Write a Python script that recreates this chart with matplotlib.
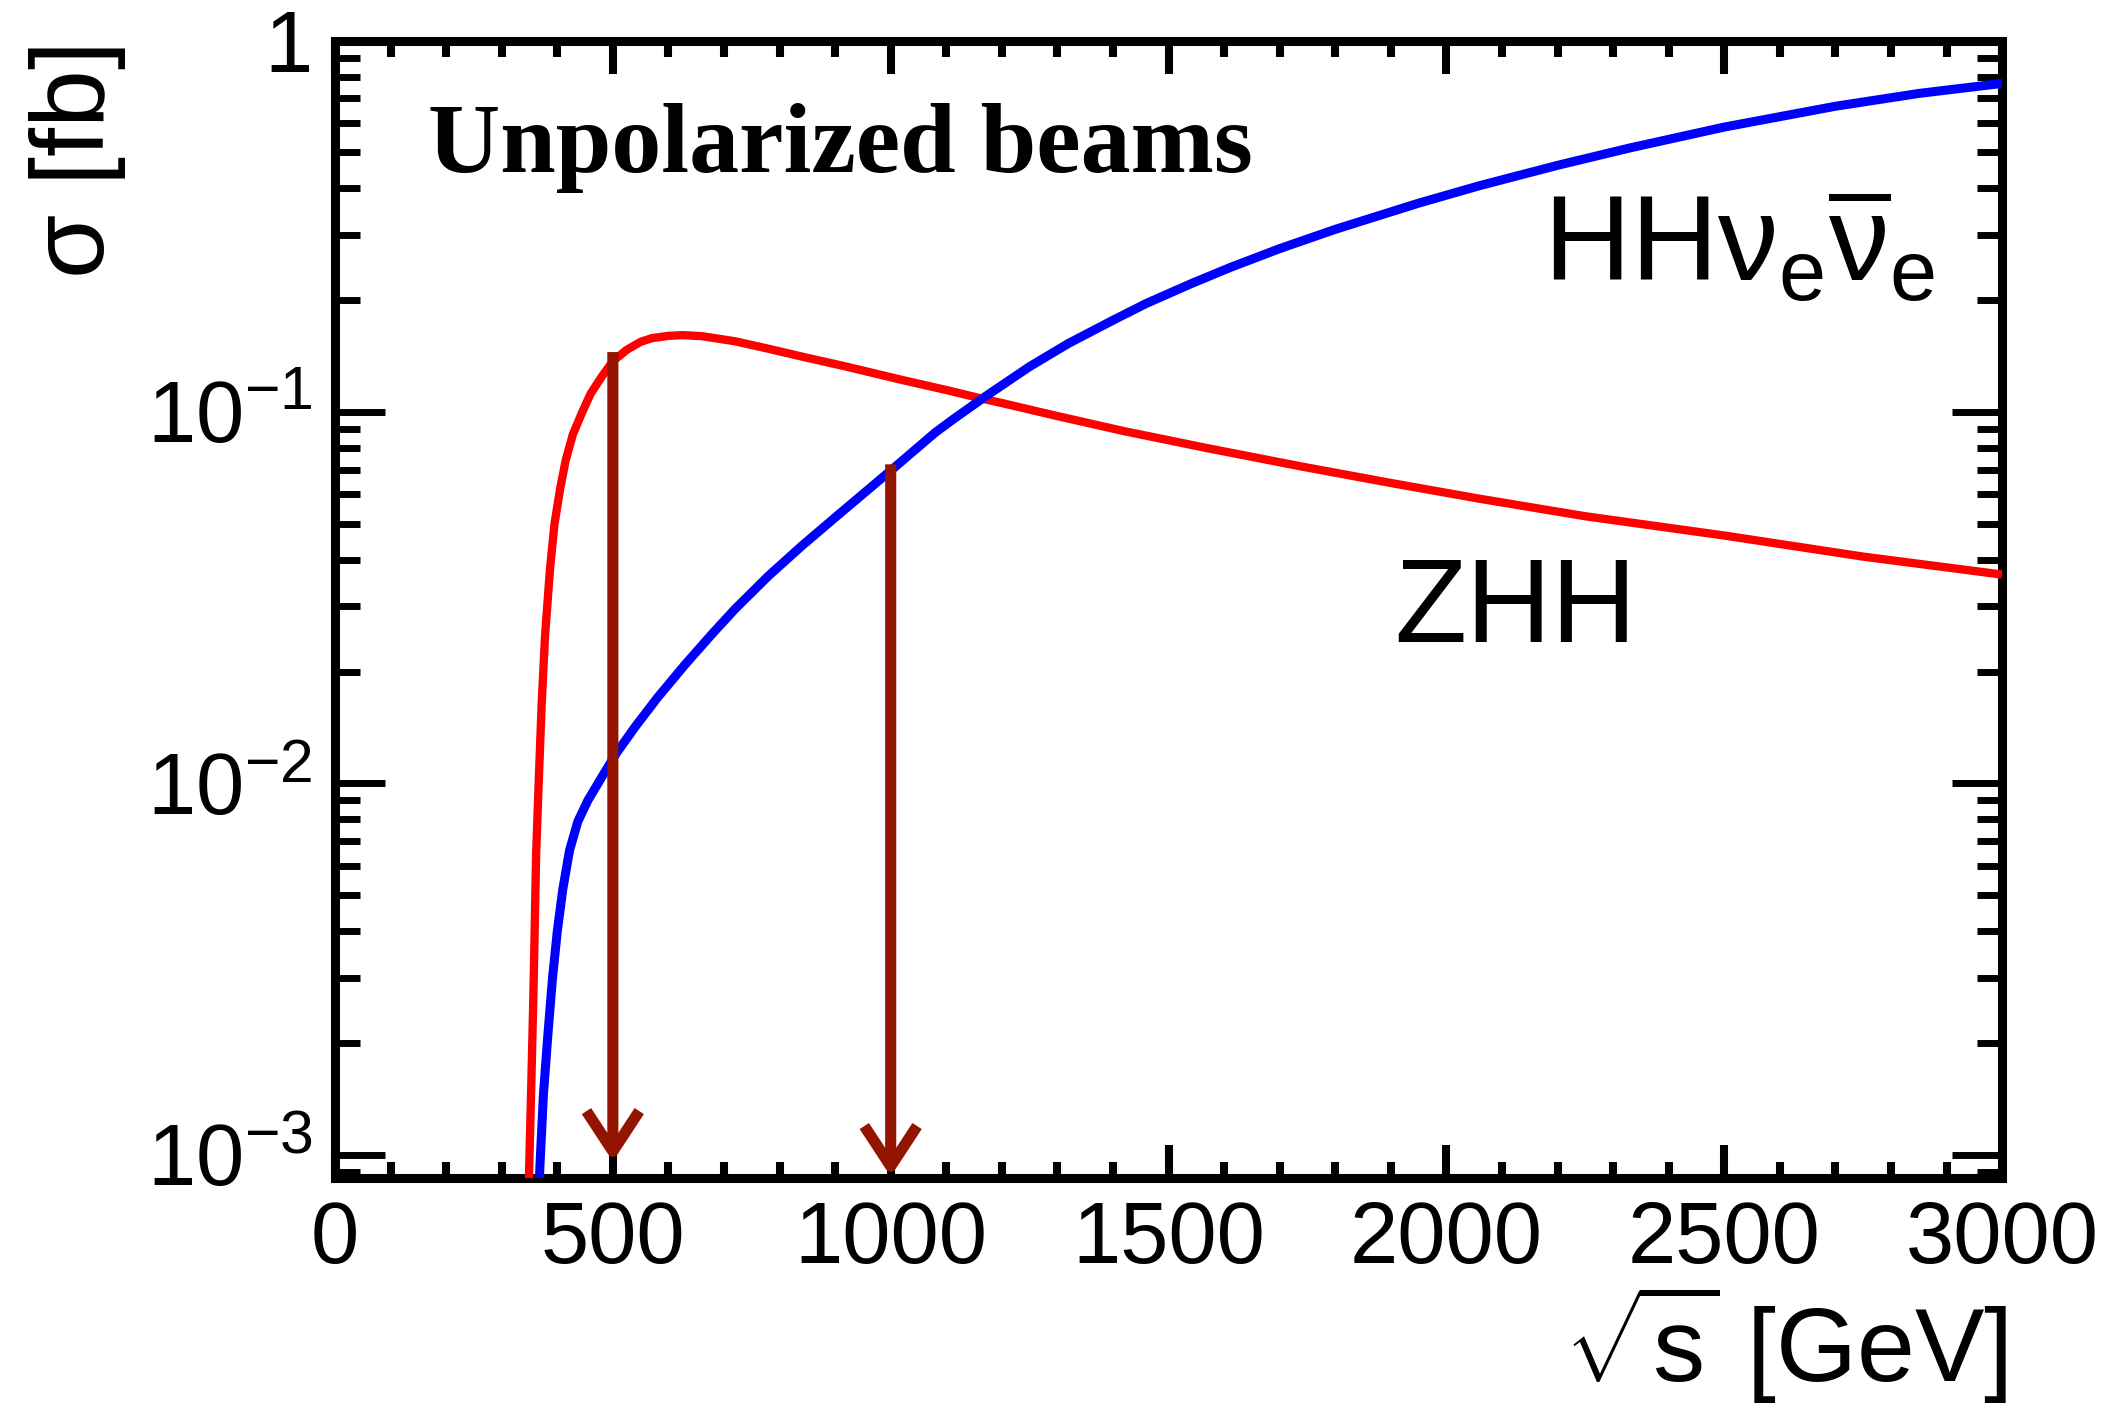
"""
Cross sections for double Higgs production at an e+e- collider
(ZHH and HH nu_e nu_e-bar) versus centre-of-mass energy, unpolarized beams.

Output:
    out.png
"""

import matplotlib
matplotlib.use("Agg")
import matplotlib.pyplot as plt
import matplotlib.ticker as mticker


# ---------------------------------------------------------------------
# Plot style
# ---------------------------------------------------------------------

plt.rcParams.update({
    "font.family": "Liberation Sans",
    "mathtext.fontset": "custom",
    "mathtext.rm": "Liberation Sans",
    "mathtext.it": "Liberation Sans",
    "mathtext.bf": "Liberation Sans:bold",
})


# ---------------------------------------------------------------------
# Data
# ---------------------------------------------------------------------

# ZHH, sqrt(s) in GeV, sigma in fb
zhh_sqrts = [348, 349, 353, 357, 362, 367, 372, 378, 387, 395, 405, 415, 428,
             445, 460, 480, 500, 525, 550, 570, 600, 625, 660, 720, 780, 840,
             920, 1020, 1100, 1160, 1200, 1300, 1420, 1570, 1740, 1900, 2060,
             2250, 2500, 2750, 3000]
zhh_sigma = [8.0e-4, 8.7e-4, 1.5e-3, 2.7e-3, 6.5e-3, 1.05e-2, 1.65e-2, 2.5e-2,
             3.8e-2, 5.0e-2, 6.2e-2, 7.4e-2, 8.7e-2, 0.100, 0.112, 0.1245,
             0.137, 0.147, 0.1545, 0.158, 0.1603, 0.161, 0.1600, 0.155, 0.148,
             0.141, 0.1325, 0.122, 0.1146, 0.109, 0.1057, 0.0975, 0.0888,
             0.0799, 0.0713, 0.0644, 0.0584, 0.0524, 0.0465, 0.0408, 0.0365]

# HH nu_e nu_e-bar
hhvv_sqrts = [367, 369, 375, 383, 391, 400, 410, 422, 437, 455, 480, 507, 540,
              580, 630, 680, 720, 780, 840, 900, 960, 1010, 1080, 1110, 1170,
              1250, 1320, 1400, 1460, 1540, 1610, 1700, 1800, 1950, 2060, 2200,
              2330, 2500, 2700, 2850, 3000]
hhvv_sigma = [8.0e-4, 9.5e-4, 1.45e-3, 2.1e-3, 2.95e-3, 4.0e-3, 5.2e-3, 6.6e-3,
              7.9e-3, 9.0e-3, 1.04e-2, 1.21e-2, 1.42e-2, 1.70e-2, 2.09e-2,
              2.54e-2, 2.95e-2, 3.62e-2, 4.36e-2, 5.20e-2, 6.19e-2, 7.16e-2,
              8.8e-2, 9.5e-2, 0.110, 0.1325, 0.153, 0.1766, 0.196, 0.2213,
              0.2446, 0.2753, 0.3102, 0.3649, 0.4068, 0.4613, 0.5138, 0.5848,
              0.6653, 0.7203, 0.7665]

# Benchmark energies marked with arrows
arrow_sqrts = [500, 1000]
arrow_top = [0.145, 0.0723]
arrow_tip = [9.6e-4, 8.75e-4]

x_min, x_max = 0, 3000
y_min, y_max = 8.67e-4, 1.0

y_major = [1e-3, 1e-2, 1e-1, 1.0]
y_major_labels = [r"$10^{-3}$", r"$10^{-2}$", r"$10^{-1}$", "1"]


# ---------------------------------------------------------------------
# Plotting
# ---------------------------------------------------------------------

def make_plot(output_path="out.png"):
    fig = plt.figure(figsize=(21.11, 14.07), dpi=100)
    ax = fig.add_axes([0.1587, 0.1628, 0.9484 - 0.1587, 0.9712 - 0.1628])

    ax.plot(zhh_sqrts, zhh_sigma, color="#ff0000", lw=6.0,
            solid_capstyle="butt", solid_joinstyle="round", zorder=3)
    ax.plot(hhvv_sqrts, hhvv_sigma, color="#0000ff", lw=6.5,
            solid_capstyle="butt", solid_joinstyle="round", zorder=3)

    for xs, top, tip in zip(arrow_sqrts, arrow_top, arrow_tip):
        ax.annotate(
            "",
            xy=(xs, tip),
            xytext=(xs, top),
            arrowprops=dict(
                arrowstyle="->,head_length=2.9,head_width=1.9",
                mutation_scale=10,
                color="#931400",
                lw=8,
                shrinkA=0,
                shrinkB=0,
                joinstyle="round",
                capstyle="butt",
            ),
            zorder=5,
        )

    ax.set_xlim(x_min, x_max)
    ax.set_yscale("log")
    ax.set_ylim(y_min, y_max)

    ax.xaxis.set_major_locator(mticker.MultipleLocator(500))
    ax.xaxis.set_minor_locator(mticker.MultipleLocator(100))
    ax.yaxis.set_major_locator(mticker.FixedLocator(y_major))
    ax.yaxis.set_major_formatter(mticker.FixedFormatter(y_major_labels))
    ax.yaxis.set_minor_locator(
        mticker.LogLocator(base=10, subs=range(2, 10), numticks=20))
    ax.yaxis.set_minor_formatter(mticker.NullFormatter())

    for spine in ax.spines.values():
        spine.set_linewidth(6.5)

    ax.tick_params(axis="both", which="both", direction="in",
                   top=True, right=True, labelsize=62.5, color="black")
    ax.tick_params(axis="x", which="major", length=24, width=5.8, pad=16)
    ax.tick_params(axis="x", which="minor", length=11.5, width=5.8)
    ax.tick_params(axis="y", which="major", length=36, width=5, pad=16)
    ax.tick_params(axis="y", which="minor", length=18, width=5)

    # Annotations
    ax.text(0.0558, 0.8844, "Unpolarized beams", transform=ax.transAxes,
            fontsize=72, fontweight="bold", family="Liberation Serif",
            ha="left", va="baseline")
    ax.text(0.7247, 0.7877, r"HH$\nu_{e}\overline{\nu}_{e}$",
            transform=ax.transAxes, fontsize=87, ha="left", va="baseline")
    ax.text(0.6353, 0.4712, "ZHH", transform=ax.transAxes, fontsize=85,
            ha="left", va="baseline")

    # Axis titles (ROOT style: flush with the frame ends)
    fig.text(0.0365, 0.9716, "σ [fb]", rotation=90, fontsize=75,
             ha="center", va="top")
    fig.text(0.9507, 0.018, r"$\sqrt{s}$ [GeV]", fontsize=75,
             ha="right", va="baseline")

    fig.savefig(output_path, dpi=100)


if __name__ == "__main__":
    make_plot()
